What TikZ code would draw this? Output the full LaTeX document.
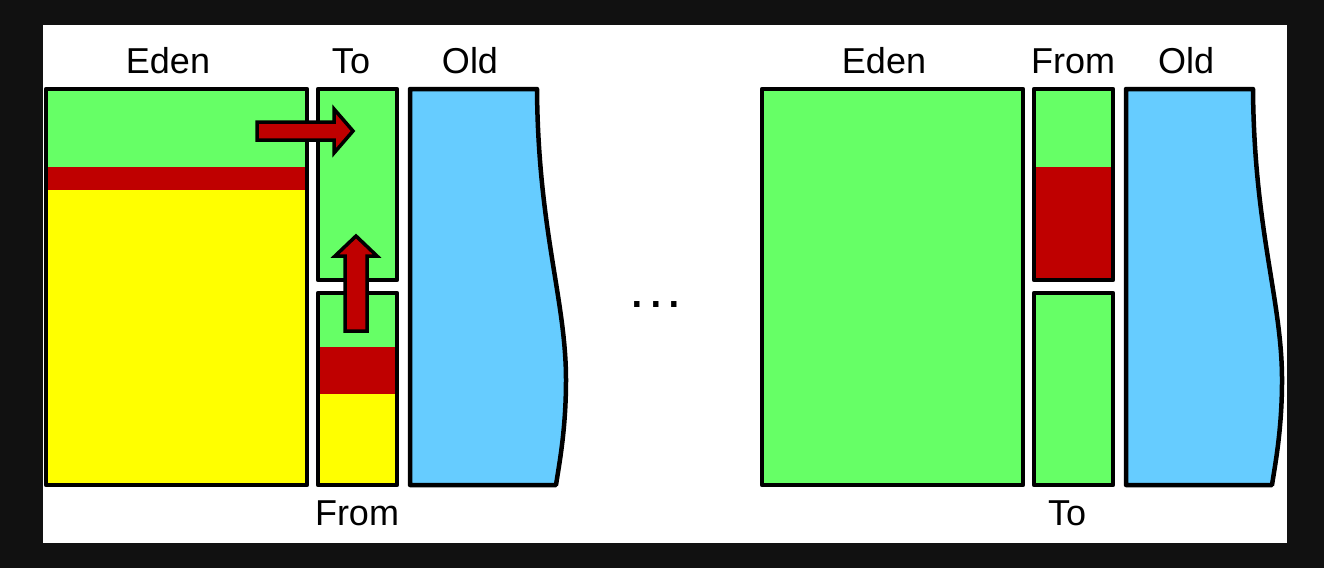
\documentclass[tikz,border=0pt]{standalone}
\usepackage{fontspec}
\setmainfont{Liberation Sans}
\usetikzlibrary{positioning}
\definecolor{bgdark}{HTML}{111111}
\definecolor{live}{HTML}{66FF66}
\definecolor{moved}{HTML}{BF0000}
\definecolor{dead}{HTML}{FFFF00}
\definecolor{tenured}{HTML}{66CCFF}
\tikzset{
x=1pt, y=-1pt, % one unit is one pixel, y grows downwards
region/.style={draw, line width=4.5pt, line join=round}, % outline of a heap region
name text/.style={font=\fontsize{36}{36}\selectfont, anchor=base}, % region names
move/.style={draw, fill=moved, line width=3.5pt, line join=miter}, % copy arrows
}

\begin{document}
\begin{tikzpicture}

\fill[bgdark] (0,0) rectangle (1324,568);
\fill[white] (43,25) rectangle (1287,543);

% before the minor collection
\fill[dead] (46,89) rectangle (307,485);
\fill[live] (46,89) rectangle (307,167);
\fill[moved] (46,167) rectangle (307,190);
\draw[region] (46,89) rectangle (307,485);

\filldraw[region, fill=live] (318,89) rectangle (397,280);

\fill[dead] (318,293) rectangle (397,485);
\fill[live] (318,293) rectangle (397,347);
\fill[moved] (318,347) rectangle (397,394);
\draw[region] (318,293) rectangle (397,485);

\filldraw[region, fill=tenured] (410,89) -- (537,89) .. controls (538,230) and (566,300) .. (566,380) .. controls (566,430) and (559,465) .. (556,485) -- (410,485) -- cycle;

\draw[move] (257,122) -- (334,122) -- (334,109) -- (353,131) -- (334,153) -- (334,140) -- (257,140) -- cycle;
\draw[move] (345,331) -- (345,256) -- (335,256) -- (356,236) -- (377,256) -- (367,256) -- (367,331) -- cycle;

\node[name text] (eden1) at (168,73) {Eden};
\node[name text] (to1) at (351,73) {To};
\node[name text] (old1) at (470,73) {Old};
\node[name text] (from1) at (357,525) {From};

\node[font=\fontsize{56}{56}\selectfont, anchor=base] (more) at (656,307) {.\hspace{3pt}.\hspace{3pt}.};

% after the minor collection
\begin{scope}[xshift=716pt]
\filldraw[region, fill=live] (46,89) rectangle (307,485);

\fill[moved] (318,89) rectangle (397,280);
\fill[live] (318,89) rectangle (397,167);
\draw[region] (318,89) rectangle (397,280);

\filldraw[region, fill=live] (318,293) rectangle (397,485);

\filldraw[region, fill=tenured] (410,89) -- (537,89) .. controls (538,230) and (566,300) .. (566,380) .. controls (566,430) and (559,465) .. (556,485) -- (410,485) -- cycle;

\node[name text] (eden2) at (168,73) {Eden};
\node[name text] (from2) at (357,73) {From};
\node[name text] (old2) at (470,73) {Old};
\node[name text] (to2) at (351,525) {To};
\end{scope}

\end{tikzpicture}
\end{document}
